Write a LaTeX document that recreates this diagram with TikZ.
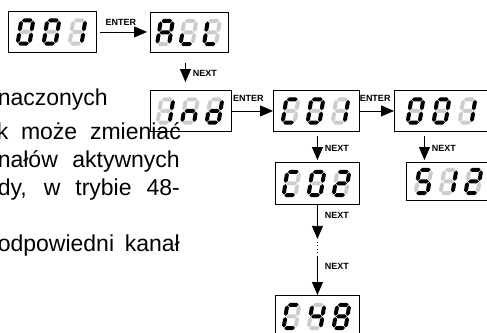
\documentclass[tikz,border=0pt]{standalone}
\usepackage{fontspec}
\setmainfont{Liberation Sans}
\usetikzlibrary{arrows.meta}

\tikzset{
  seg1/.style={fill=black},
  seg0/.style={fill=black!20},
  dispbox/.style={draw, line width=0.9pt, inner sep=0pt, anchor=north west},
  key/.style={font=\fontsize{9}{10}\selectfont\bfseries, inner sep=1pt},
  flow/.style={-{Triangle[length=13pt,width=11pt]}, line width=0.8pt},
  body/.style={font=\fontsize{23}{27}\selectfont, anchor=base east, inner sep=0pt},
}

% one segment: horizontal (style, x1, x2, y) and vertical (style, x, y1, y2)
\newcommand\hseg[4]{\fill[seg#1] (#2,#4) -- (#2+2,#4-2) -- (#3-2,#4-2) -- (#3,#4) -- (#3-2,#4+2) -- (#2+2,#4+2) -- cycle;}
\newcommand\vseg[4]{\fill[seg#1] (#2,#3) -- (#2+2,#3+2) -- (#2+2,#4-2) -- (#2,#4) -- (#2-2,#4-2) -- (#2-2,#3+2) -- cycle;}

% seven-segment digit, segments a b c d e f g (1 = lit, 0 = dark)
\newcommand\sevenseg[7]{%
  \hseg{#1}{-5.4}{5.4}{-11.6}%
  \vseg{#2}{6}{-11}{-0.6}%
  \vseg{#3}{6}{0.6}{11}%
  \hseg{#4}{-5.4}{5.4}{11.6}%
  \vseg{#5}{-6}{0.6}{11}%
  \vseg{#6}{-6}{-11}{-0.6}%
  \hseg{#7}{-5.4}{5.4}{0}%
}
\newcommand\gZero{\sevenseg1111110}
\newcommand\gOne{\sevenseg0110000}
\newcommand\gTwo{\sevenseg1101101}
\newcommand\gFour{\sevenseg0110011}
\newcommand\gFive{\sevenseg1011011}
\newcommand\gEight{\sevenseg1111111}
\newcommand\gA{\sevenseg1110111}
\newcommand\gLlow{\sevenseg0001100}
\newcommand\gL{\sevenseg0001110}
\newcommand\gn{\sevenseg0010101}
\newcommand\gd{\sevenseg0111101}
\newcommand\gC{\sevenseg1001110}

% three digits inside a display box: box, pitch, glyphs
\newcommand\readout[5]{%
  \begin{scope}[shift={(#1.center)}]
    \begin{scope}[shift={(-#2-1,0)},xslant=0.16]#3\end{scope}
    \begin{scope}[shift={(-1,0)},xslant=0.16]#4\end{scope}
    \begin{scope}[shift={(#2-1,0)},xslant=0.16]#5\end{scope}
  \end{scope}}

\begin{document}
\begin{tikzpicture}[x=1pt,y=-1pt]
\useasboundingbox (0,0) rectangle (487,332);
\fill[white] (0,0) rectangle (487,332);

% running text beside the menu
\node[body] (t1) at (108,105) {naczonych};
\node[body] (t2) at (181,139) {\makebox[184pt][s]{k może zmieniać}};
\node[body] (t3) at (180,167) {\makebox[182pt][s]{nałów aktywnych}};
\node[body] (t4) at (180,195) {\makebox[182pt][s]{dy, w trybie 48-}};
\node[body] (t5) at (180,251) {\makebox[182pt][s]{odpowiedni kanał}};

% display boxes
\node[dispbox, minimum width=88pt, minimum height=41pt] (d1) at (8,11) {};
\node[dispbox, minimum width=78pt, minimum height=40pt] (d2) at (150,12) {};
\node[dispbox, minimum width=81pt, minimum height=41pt] (d3) at (150,90) {};
\node[dispbox, minimum width=86pt, minimum height=41pt] (d4) at (273,90) {};
\node[dispbox, minimum width=96pt, minimum height=41pt] (d5) at (394,90) {};
\node[dispbox, minimum width=86pt, minimum height=38pt] (d6) at (406,162) {};
\node[dispbox, minimum width=84pt, minimum height=42pt] (d7) at (275,162) {};
\node[dispbox, minimum width=84pt, minimum height=42pt] (d8) at (275,295) {};

% digits
\readout{d1}{26}{\gZero}{\gZero}{\gOne}
\readout{d2}{23.5}{\gA}{\gLlow}{\gL}
\readout{d3}{24.5}{\gOne}{\gn}{\gd}
\readout{d4}{25}{\gC}{\gZero}{\gOne}
\begin{scope}[shift={(-5,0)}]\readout{d5}{26}{\gZero}{\gZero}{\gOne}\end{scope}
\readout{d6}{25}{\gFive}{\gOne}{\gTwo}
\readout{d7}{25}{\gC}{\gZero}{\gTwo}
\readout{d8}{25}{\gC}{\gFour}{\gEight}

% ENTER steps
\draw[flow, shorten <=3pt, shorten >=3pt] (d1.east) -- (d1.east -| d2.west)
  node[key, pos=0.45, above=5pt] {ENTER};
\draw[flow] (d3.east) -- (d3.east -| d4.west)
  node[key, pos=0.4, above=8pt] {ENTER};
\draw[flow] (d4.east) -- (d4.east -| d5.west)
  node[key, pos=0.45, above=8pt] {ENTER};

% NEXT steps
\draw[flow, shorten <=10pt, shorten >=8pt] ([xshift=-4pt]d2.south) -- ([xshift=-4pt]d2.south |- d3.north)
  node[key, pos=0.55, right=6pt] {NEXT};
\draw[flow, shorten <=4pt, shorten >=2pt] ([xshift=1pt]d4.south) -- ([xshift=1pt]d4.south |- d7.north)
  node[key, pos=0.55, right=6pt] {NEXT};
\draw[flow, shorten <=4pt, shorten >=2pt] ([xshift=-18pt]d5.south) -- ([xshift=-18pt]d5.south |- d6.north)
  node[key, pos=0.55, right=6pt] {NEXT};

\path ([yshift=-34pt]d7.south) coordinate (m1)
      ([yshift=-52pt]d7.south) coordinate (m2);
\draw[flow] (d7.south) -- (m1) node[key, pos=0.3, right=6pt] {NEXT};
\draw[line width=0.8pt, dash pattern=on 0.8pt off 2.6pt] ([yshift=-3pt]m1) -- (m2);
\draw[flow] (m2) -- (m2 |- d8.north) node[key, pos=0.25, right=6pt] {NEXT};
\end{tikzpicture}
\end{document}
